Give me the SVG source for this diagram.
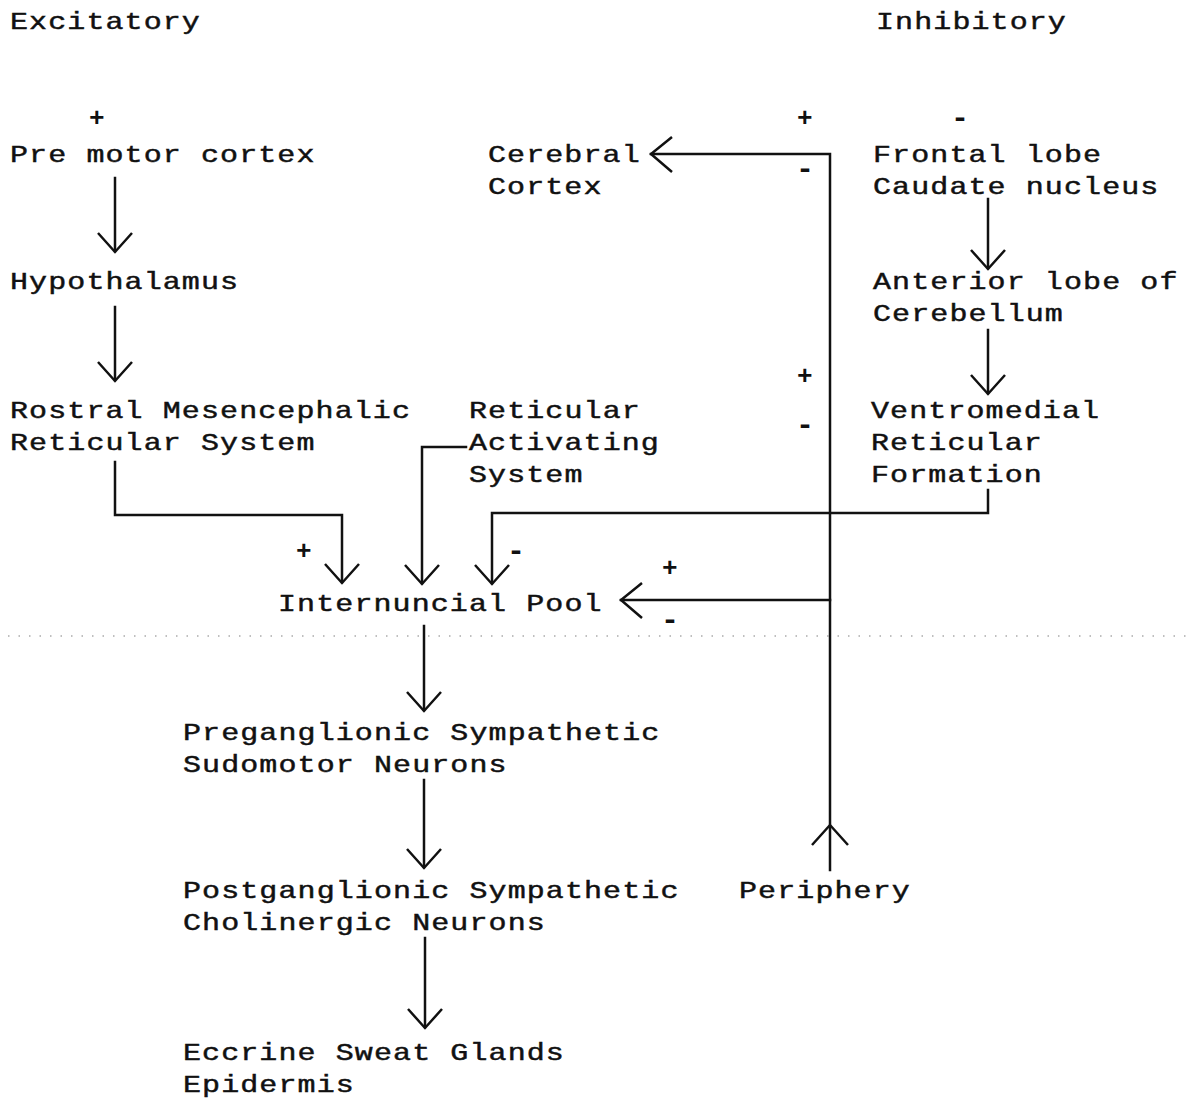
<svg xmlns="http://www.w3.org/2000/svg" width="1196" height="1101" viewBox="0 0 1196 1101">
<style>
text{font-family:"Liberation Mono","Courier New",monospace;fill:#111}
.t text{font-size:24px;letter-spacing:0.88px;stroke:#111;stroke-width:0.45}
.sign{font-size:26px;font-weight:bold}
.minus{font-size:30px;font-weight:bold}
.c{fill:none;stroke:#111;stroke-width:2.5;stroke-linecap:square}
.h{fill:none;stroke:#111;stroke-width:2.5;stroke-linejoin:miter}
</style>
<rect width="1196" height="1101" fill="#fff"/>
<line x1="8" y1="636" x2="1190" y2="636" stroke="#aaa" stroke-width="1.5" stroke-dasharray="1.5 9"/>
<g class="t" transform="scale(1.25 1)">
<g id="labels">
<text x="8" y="29">Excitatory</text>
<text x="700.8" y="29">Inhibitory</text>
</g>
<g id="premotor"><text x="8" y="162">Pre motor cortex</text></g>
<g id="cerebral"><text x="390.4" y="162">Cerebral</text><text x="390.4" y="194">Cortex</text></g>
<g id="frontal"><text x="698.4" y="162">Frontal lobe</text><text x="698.4" y="194">Caudate nucleus</text></g>
<g id="hypothalamus"><text x="8" y="289">Hypothalamus</text></g>
<g id="anterior"><text x="698.4" y="289">Anterior lobe of</text><text x="698.4" y="321">Cerebellum</text></g>
<g id="rostral"><text x="8" y="418">Rostral Mesencephalic</text><text x="8" y="450">Reticular System</text></g>
<g id="ras"><text x="375.2" y="418">Reticular</text><text x="375.2" y="450">Activating</text><text x="375.2" y="482">System</text></g>
<g id="ventromedial"><text x="696.8" y="418">Ventromedial</text><text x="696.8" y="450">Reticular</text><text x="696.8" y="482">Formation</text></g>
<g id="internuncial"><text x="222.4" y="611">Internuncial Pool</text></g>
<g id="preganglionic"><text x="146.4" y="740">Preganglionic Sympathetic</text><text x="146.4" y="772">Sudomotor Neurons</text></g>
<g id="postganglionic"><text x="146.4" y="898">Postganglionic Sympathetic</text><text x="146.4" y="930">Cholinergic Neurons</text></g>
<g id="periphery"><text x="591.2" y="898">Periphery</text></g>
<g id="eccrine"><text x="146.4" y="1060">Eccrine Sweat Glands</text><text x="146.4" y="1092">Epidermis</text></g>
</g>
<g id="signs">
<text class="sign" x="89" y="126">+</text>
<text class="sign" x="797" y="126">+</text>
<text class="minus" x="796" y="178">-</text>
<text class="minus" x="951" y="127">-</text>
<text class="sign" x="797" y="384">+</text>
<text class="minus" x="796" y="434">-</text>
<text class="sign" x="296" y="559">+</text>
<text class="minus" x="507" y="560">-</text>
<text class="sign" x="662" y="576">+</text>
<text class="minus" x="661" y="629">-</text>
</g>
<g id="connectors">
<line class="c" x1="115" y1="178" x2="115" y2="251"/>
<polyline class="h" points="98,233 115,252 132,233"/>
<line class="c" x1="115" y1="307" x2="115" y2="380"/>
<polyline class="h" points="98,362 115,381 132,362"/>
<line class="c" x1="988" y1="199" x2="988" y2="268"/>
<polyline class="h" points="971,250 988,269 1005,250"/>
<line class="c" x1="988" y1="330" x2="988" y2="393"/>
<polyline class="h" points="971,375 988,394 1005,375"/>
<polyline class="c" points="115,462 115,515 342,515 342,582"/>
<polyline class="h" points="325,564 342,583 359,564"/>
<polyline class="c" points="466,447 422,447 422,583"/>
<polyline class="h" points="405,565 422,584 439,565"/>
<polyline class="c" points="988,490 988,513 492,513 492,583"/>
<polyline class="h" points="475,565 492,584 509,565"/>
<polyline class="c" points="830,870 830,154 651,154"/>
<polyline class="h" points="672,137 651,154 672,172"/>
<line class="c" x1="830" y1="600" x2="621" y2="600"/>
<polyline class="h" points="642,583 621,600 642,618"/>
<polyline class="h" points="812,845 830,825 848,845"/>
<line class="c" x1="424" y1="626" x2="424" y2="710"/>
<polyline class="h" points="407,692 424,711 441,692"/>
<line class="c" x1="424" y1="780" x2="424" y2="867"/>
<polyline class="h" points="407,849 424,868 441,849"/>
<line class="c" x1="425" y1="938" x2="425" y2="1027"/>
<polyline class="h" points="408,1009 425,1028 442,1009"/>
</g>
</svg>
